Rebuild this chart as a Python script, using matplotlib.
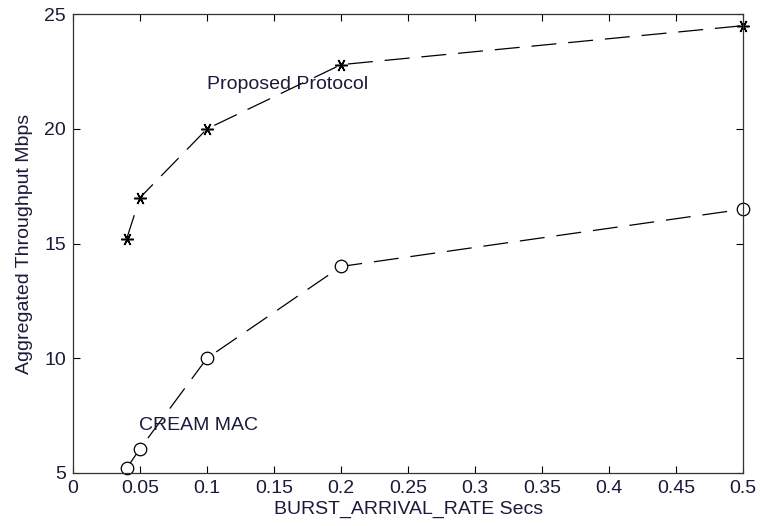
import matplotlib

matplotlib.use("Agg")

import matplotlib.pyplot as plt

plt.rcParams["font.family"] = ["Liberation Sans", "DejaVu Sans"]

burst_rate = [0.04, 0.05, 0.1, 0.2, 0.5]
proposed = [15.2, 17.0, 20.0, 22.8, 24.5]
cream_mac = [5.2, 6.05, 10.0, 14.0, 16.5]

x_ticks = [0, 0.05, 0.1, 0.15, 0.2, 0.25, 0.3, 0.35, 0.4, 0.45, 0.5]
x_tick_labels = ["0", "0.05", "0.1", "0.15", "0.2", "0.25", "0.3", "0.35", "0.4", "0.45", "0.5"]
y_ticks = [5, 10, 15, 20, 25]

text_color = "#1a1a3a"
fs = 14

fig = plt.figure(figsize=(7.6, 5.26), dpi=100)
ax = fig.add_axes([0.096, 0.101, 0.882, 0.872])

dash = (0, (20, 9.5))
ax.plot(burst_rate, proposed, color="black", lw=0.9, linestyle=dash,
        marker=(6, 2, 90), markersize=9, markeredgecolor="black", markeredgewidth=1.1,
        clip_on=False)
ax.plot(burst_rate, cream_mac, color="black", lw=0.9, linestyle=dash,
        marker="o", markersize=9, markerfacecolor="white", markeredgecolor="black",
        markeredgewidth=0.9, clip_on=False)

ax.text(0.1, 21.95, "Proposed Protocol", fontsize=fs, va="center", ha="left", color=text_color)
ax.text(0.049, 7.05, "CREAM MAC", fontsize=fs, va="center", ha="left", color=text_color)

ax.set_xlim(0, 0.5)
ax.set_ylim(5, 25)
ax.set_xticks(x_ticks)
ax.set_xticklabels(x_tick_labels)
ax.set_yticks(y_ticks)
ax.tick_params(direction="in", top=True, right=True, length=5, width=0.8,
               labelsize=fs, labelcolor=text_color)
ax.tick_params(axis="x", pad=5)
ax.tick_params(axis="y", pad=5)
for spine in ax.spines.values():
    spine.set_linewidth(0.9)
    spine.set_color("#333333")

ax.set_xlabel("BURST_ARRIVAL_RATE Secs", fontsize=fs, color=text_color, labelpad=3)
ax.set_ylabel("Aggregated Throughput Mbps", fontsize=fs, color=text_color, labelpad=8)

fig.savefig("out.png", dpi=100)
